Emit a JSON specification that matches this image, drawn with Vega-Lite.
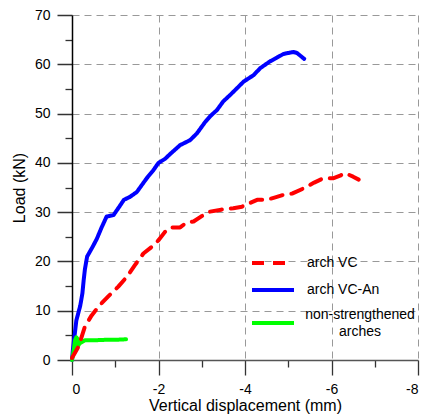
{
  "$schema": "https://vega.github.io/schema/vega-lite/v6.json",
  "width": 346,
  "height": 345,
  "autosize": "none",
  "padding": {"left": 72, "top": 15, "right": 3, "bottom": 58},
  "background": "white",
  "config": {
    "view": {"stroke": null},
    "font": "Liberation Sans"
  },
  "data": {
    "values": [
      {"s": "arch VC-An", "i": 1, "x": 0, "y": 0},
      {"s": "arch VC-An", "i": 2, "x": -0.02, "y": 2},
      {"s": "arch VC-An", "i": 3, "x": -0.1, "y": 8},
      {"s": "arch VC-An", "i": 4, "x": -0.19, "y": 11},
      {"s": "arch VC-An", "i": 5, "x": -0.24, "y": 13.5},
      {"s": "arch VC-An", "i": 6, "x": -0.27, "y": 16.2},
      {"s": "arch VC-An", "i": 7, "x": -0.3, "y": 18.5},
      {"s": "arch VC-An", "i": 8, "x": -0.35, "y": 21},
      {"s": "arch VC-An", "i": 9, "x": -0.46, "y": 22.7},
      {"s": "arch VC-An", "i": 10, "x": -0.57, "y": 24.5},
      {"s": "arch VC-An", "i": 11, "x": -0.68, "y": 26.8},
      {"s": "arch VC-An", "i": 12, "x": -0.8, "y": 29.1},
      {"s": "arch VC-An", "i": 13, "x": -0.96, "y": 29.4},
      {"s": "arch VC-An", "i": 14, "x": -1.07, "y": 30.8},
      {"s": "arch VC-An", "i": 15, "x": -1.2, "y": 32.5},
      {"s": "arch VC-An", "i": 16, "x": -1.34, "y": 33.1},
      {"s": "arch VC-An", "i": 17, "x": -1.5, "y": 34.1},
      {"s": "arch VC-An", "i": 18, "x": -1.73, "y": 36.9},
      {"s": "arch VC-An", "i": 19, "x": -1.88, "y": 38.5},
      {"s": "arch VC-An", "i": 20, "x": -2.0, "y": 40.0},
      {"s": "arch VC-An", "i": 21, "x": -2.15, "y": 40.8},
      {"s": "arch VC-An", "i": 22, "x": -2.27, "y": 41.8},
      {"s": "arch VC-An", "i": 23, "x": -2.5, "y": 43.6},
      {"s": "arch VC-An", "i": 24, "x": -2.73, "y": 44.6},
      {"s": "arch VC-An", "i": 25, "x": -2.89, "y": 46},
      {"s": "arch VC-An", "i": 26, "x": -3.08, "y": 48.3},
      {"s": "arch VC-An", "i": 27, "x": -3.2, "y": 49.5},
      {"s": "arch VC-An", "i": 28, "x": -3.35, "y": 50.7},
      {"s": "arch VC-An", "i": 29, "x": -3.5, "y": 52.5},
      {"s": "arch VC-An", "i": 30, "x": -3.66, "y": 53.8},
      {"s": "arch VC-An", "i": 31, "x": -3.81, "y": 55.1},
      {"s": "arch VC-An", "i": 32, "x": -3.97, "y": 56.5},
      {"s": "arch VC-An", "i": 33, "x": -4.2, "y": 57.8},
      {"s": "arch VC-An", "i": 34, "x": -4.35, "y": 59.2},
      {"s": "arch VC-An", "i": 35, "x": -4.58, "y": 60.6},
      {"s": "arch VC-An", "i": 36, "x": -4.75, "y": 61.4},
      {"s": "arch VC-An", "i": 37, "x": -4.89, "y": 62.1},
      {"s": "arch VC-An", "i": 38, "x": -5.12, "y": 62.5},
      {"s": "arch VC-An", "i": 39, "x": -5.2, "y": 62.3},
      {"s": "arch VC-An", "i": 40, "x": -5.37, "y": 61.1},
      {"s": "non-strengthened arches", "i": 1, "x": 0, "y": 0},
      {"s": "non-strengthened arches", "i": 2, "x": -0.04, "y": 2.0},
      {"s": "non-strengthened arches", "i": 3, "x": -0.07, "y": 4.0},
      {"s": "non-strengthened arches", "i": 4, "x": -0.1, "y": 4.6},
      {"s": "non-strengthened arches", "i": 5, "x": -0.14, "y": 4.2},
      {"s": "non-strengthened arches", "i": 6, "x": -0.12, "y": 2.6},
      {"s": "non-strengthened arches", "i": 7, "x": -0.18, "y": 3.4},
      {"s": "non-strengthened arches", "i": 8, "x": -0.3, "y": 4.0},
      {"s": "non-strengthened arches", "i": 9, "x": -0.5, "y": 4.0},
      {"s": "non-strengthened arches", "i": 10, "x": -0.8, "y": 4.1},
      {"s": "non-strengthened arches", "i": 11, "x": -1.0, "y": 4.1},
      {"s": "non-strengthened arches", "i": 12, "x": -1.25, "y": 4.2},
      {"s": "arch VC", "i": 1, "x": 0, "y": 0.4},
      {"s": "arch VC", "i": 2, "x": -0.15, "y": 2.7},
      {"s": "arch VC", "i": 3, "x": -0.3, "y": 6.8},
      {"s": "arch VC", "i": 4, "x": -0.45, "y": 9},
      {"s": "arch VC", "i": 5, "x": -0.65, "y": 11.2},
      {"s": "arch VC", "i": 6, "x": -0.85, "y": 13},
      {"s": "arch VC", "i": 7, "x": -1.07, "y": 14.9},
      {"s": "arch VC", "i": 8, "x": -1.27, "y": 16.9},
      {"s": "arch VC", "i": 9, "x": -1.45, "y": 19.2},
      {"s": "arch VC", "i": 10, "x": -1.65, "y": 21.6},
      {"s": "arch VC", "i": 11, "x": -1.85, "y": 23},
      {"s": "arch VC", "i": 12, "x": -2.0, "y": 24.3},
      {"s": "arch VC", "i": 13, "x": -2.15, "y": 26},
      {"s": "arch VC", "i": 14, "x": -2.27, "y": 26.9},
      {"s": "arch VC", "i": 15, "x": -2.5, "y": 26.9},
      {"s": "arch VC", "i": 16, "x": -2.65, "y": 27.9},
      {"s": "arch VC", "i": 17, "x": -2.81, "y": 28.1},
      {"s": "arch VC", "i": 18, "x": -3.0, "y": 29.2},
      {"s": "arch VC", "i": 19, "x": -3.19, "y": 30.1},
      {"s": "arch VC", "i": 20, "x": -3.45, "y": 30.5},
      {"s": "arch VC", "i": 21, "x": -3.73, "y": 30.8},
      {"s": "arch VC", "i": 22, "x": -3.93, "y": 31.1},
      {"s": "arch VC", "i": 23, "x": -4.1, "y": 31.8},
      {"s": "arch VC", "i": 24, "x": -4.28, "y": 32.5},
      {"s": "arch VC", "i": 25, "x": -4.5, "y": 32.5},
      {"s": "arch VC", "i": 26, "x": -4.7, "y": 33.0},
      {"s": "arch VC", "i": 27, "x": -4.89, "y": 33.5},
      {"s": "arch VC", "i": 28, "x": -5.1, "y": 33.8},
      {"s": "arch VC", "i": 29, "x": -5.35, "y": 34.8},
      {"s": "arch VC", "i": 30, "x": -5.6, "y": 36},
      {"s": "arch VC", "i": 31, "x": -5.82, "y": 36.9},
      {"s": "arch VC", "i": 32, "x": -6.05, "y": 36.9},
      {"s": "arch VC", "i": 33, "x": -6.2, "y": 37.4},
      {"s": "arch VC", "i": 34, "x": -6.32, "y": 37.9},
      {"s": "arch VC", "i": 35, "x": -6.5, "y": 37.2},
      {"s": "arch VC", "i": 36, "x": -6.63, "y": 36.6}
    ]
  },
  "mark": {"type": "line", "strokeWidth": 4, "strokeCap": "round", "strokeJoin": "round"},
  "encoding": {
    "x": {
      "field": "x",
      "type": "quantitative",
      "scale": {"domain": [0, -8], "nice": false, "zero": false},
      "axis": {
        "values": [0, -1, -2, -3, -4, -5, -6, -7, -8],
        "title": "Vertical displacement (mm)",
        "titleFontSize": 16,
        "titleFontWeight": "normal",
        "titleColor": "#000",
        "titlePadding": 1,
        "labelFontSize": 14,
        "labelColor": "#000",
        "labelPadding": 7,
        "labelExpr": "abs(datum.value) % 2 !== 0 ? '' : (datum.value === 0 ? '0' : '-' + abs(datum.value))",
        "domainColor": "#555",
        "domainWidth": 1.5,
        "tickColor": "#333",
        "tickWidth": 1.3,
        "tickSize": 15,
        "tickDash": {"condition": {"test": "abs(datum.value) % 2 !== 0", "value": [7, 30]}, "value": [1, 0]},
        "grid": true,
        "gridColor": "#999",
        "gridDash": [7, 5],
        "gridWidth": 1,
        "gridOpacity": {"condition": {"test": "abs(datum.value) % 2 === 0 && datum.value !== 0", "value": 1}, "value": 0}
      }
    },
    "y": {
      "field": "y",
      "type": "quantitative",
      "scale": {"domain": [0, 70], "nice": false},
      "axis": {
        "values": [0, 5, 10, 15, 20, 25, 30, 35, 40, 45, 50, 55, 60, 65, 70],
        "title": "Load (kN)",
        "titleFontSize": 16,
        "titleFontWeight": "normal",
        "titleColor": "#000",
        "titlePadding": 7,
        "labelFontSize": 14,
        "labelColor": "#000",
        "labelPadding": 7,
        "labelExpr": "datum.value % 10 !== 0 ? '' : datum.label",
        "domainColor": "#000",
        "domainWidth": 1.5,
        "tickColor": "#333",
        "tickWidth": 1.3,
        "tickSize": 15,
        "tickDash": {"condition": {"test": "datum.value % 10 !== 0", "value": [7, 30]}, "value": [1, 0]},
        "grid": true,
        "gridColor": "#999",
        "gridDash": [7, 5],
        "gridWidth": 1,
        "gridOpacity": {"condition": {"test": "datum.value % 10 === 0 && datum.value !== 0", "value": 1}, "value": 0}
      }
    },
    "color": {
      "field": "s",
      "type": "nominal",
      "scale": {"domain": ["arch VC", "arch VC-An", "non-strengthened arches"], "range": ["#ff0000", "#0000ff", "#00ff00"]},
      "legend": {
        "title": null,
        "orient": "none",
        "legendX": 192,
        "legendY": 239,
        "padding": 0,
        "symbolType": "M-3,0H3",
        "symbolSize": 196,
        "symbolStrokeWidth": 4,
        "labelFontSize": 14,
        "labelColor": "#000",
        "labelOffset": 25,
        "rowPadding": 10,
        "labelLimit": 200,
        "labelExpr": "datum.label === 'non-strengthened arches' ? ['non-strengthened', 'arches'] : datum.label",
        "encode": {
          "labels": {
            "update": {
              "lineHeight": {"value": 17},
              "align": {"signal": "datum.value === 'non-strengthened arches' ? 'center' : 'left'"},
              "dx": {"signal": "datum.value === 'non-strengthened arches' ? 53 : 0"},
              "dy": {"signal": "datum.value === 'non-strengthened arches' ? -8 : 0"}
            }
          }
        }
      }
    },
    "strokeDash": {
      "field": "s",
      "type": "nominal",
      "scale": {"domain": ["arch VC", "arch VC-An", "non-strengthened arches"], "range": [[12, 9], [1, 0], [1, 0]]},
      "legend": null
    },
    "order": {"field": "i", "type": "quantitative"}
  }
}
